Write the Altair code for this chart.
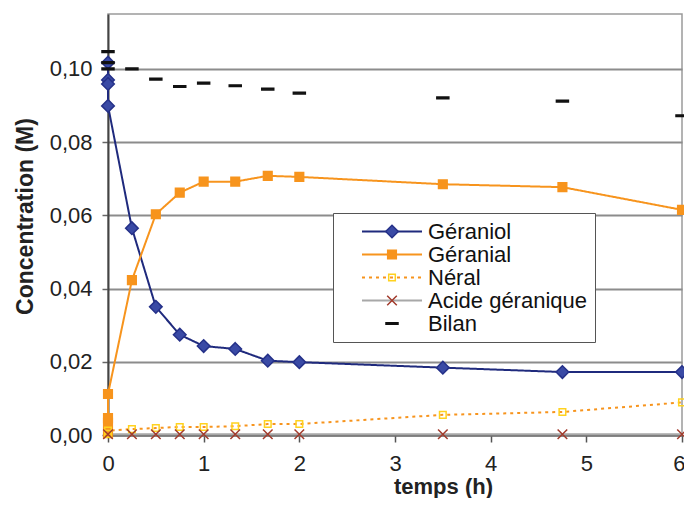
import altair as alt
import pandas as pd

SERIES = ["Géraniol", "Géranial", "Néral", "Acide géranique", "Bilan"]

T_GERANIOL = [0, 0, 0, 0, 0.25, 0.5, 0.75, 1, 1.33, 1.67, 2, 3.5, 4.75, 6]
V_GERANIOL = [0.1017, 0.0970, 0.0959, 0.0899, 0.0565, 0.0350, 0.0274, 0.0243,
              0.0235, 0.0203, 0.0199, 0.0184, 0.0172, 0.0172]

T_GERANIAL = [0, 0, 0, 0, 0.25, 0.5, 0.75, 1, 1.33, 1.67, 2, 3.5, 4.75, 6]
V_GERANIAL = [0.0005, 0.0033, 0.0046, 0.0112, 0.0423, 0.0603, 0.0662, 0.0692,
              0.0692, 0.0708, 0.0705, 0.0685, 0.0677, 0.0615]

T_NERAL = [0, 0, 0.25, 0.5, 0.75, 1, 1.33, 1.67, 2, 3.5, 4.75, 6]
V_NERAL = [0.0003, 0.0012, 0.0016, 0.0019, 0.0022, 0.0022, 0.0024, 0.0030,
           0.0030, 0.0055, 0.0063, 0.0089]

T_ACIDE = [0, 0.25, 0.5, 0.75, 1, 1.33, 1.67, 2, 3.5, 4.75, 6]
V_ACIDE = [0.0002, 0.0002, 0.0002, 0.0002, 0.0002, 0.0002, 0.0002, 0.0002,
           0.0002, 0.0002, 0.0002]

T_BILAN = [0, 0, 0, 0.25, 0.5, 0.75, 1, 1.33, 1.67, 2, 3.5, 4.75, 6]
V_BILAN = [0.1047, 0.1017, 0.1000, 0.1000, 0.0972, 0.0952, 0.0961, 0.0954,
           0.0945, 0.0934, 0.0921, 0.0912, 0.0872]

X_TICKS = [0, 1, 2, 3, 4, 5, 6]
Y_TICKS = [0.0, 0.02, 0.04, 0.06, 0.08, 0.10]

LINE_COLORS = ["#1f2a7d", "#f7941d", "#f7941d", "#a8a8a8", "transparent"]
LINE_DASH = [[1, 0], [1, 0], [3, 4], [1, 0], [1, 0]]

MARK_SHAPES = [
    "M0,-1.05L1.05,0L0,1.05L-1.05,0Z",
    "M-0.72,-0.72H0.72V0.72H-0.72Z",
    "M-0.55,-0.55H0.55V0.55H-0.55Z",
    "M-0.8,-0.8L0.8,0.8M-0.8,0.8L0.8,-0.8",
    "M-1,-0.14H1V0.14H-1Z",
]
MARK_FILL = ["#3a4aa5", "#f7941d", "transparent", "transparent", "#111111"]
MARK_STROKE = ["#253189", "#f7941d", "#ffd21f", "#a23b2c", "#111111"]

rows = []
for name, ts, vs in [
    ("Géraniol", T_GERANIOL, V_GERANIOL),
    ("Géranial", T_GERANIAL, V_GERANIAL),
    ("Néral", T_NERAL, V_NERAL),
    ("Acide géranique", T_ACIDE, V_ACIDE),
    ("Bilan", T_BILAN, V_BILAN),
]:
    for i, (t, v) in enumerate(zip(ts, vs)):
        rows.append({"serie": name, "t": t, "c": v, "idx": i})
df = pd.DataFrame(rows)

FONT = "Liberation Sans"

x_enc = alt.X(
    "t:Q",
    scale=alt.Scale(domain=[0, 6], nice=False, zero=False),
    axis=alt.Axis(
        values=X_TICKS, format="d", title="temps (h)", grid=False,
        domainColor="#707070", domainWidth=2.5,
        tickColor="#555555", tickSize=7, tickWidth=1.5,
        labelFont=FONT, labelFontSize=22, labelColor="#222222", labelPadding=11,
        labelAlign={"condition": {"test": "datum.value == 6", "value": "right"}, "value": "center"},
        labelOffset={"condition": {"test": "datum.value == 6", "value": 3}, "value": 0},
        titleFont=FONT, titleFontSize=22, titleFontWeight="bold", titleColor="#222222",
        titleX=335, titleY=58, titleBaseline="alphabetic", titleAlign="center",
    ),
)
y_enc = alt.Y(
    "c:Q",
    scale=alt.Scale(domain=[0, 0.115], nice=False, zero=True),
    axis=alt.Axis(
        values=Y_TICKS, labelExpr="replace(format(datum.value, '.2f'), '.', ',')",
        title="Concentration (M)", grid=True,
        gridColor="#8c8c8c", gridWidth=1.8,
        domainColor="#444444", domainWidth=2,
        tickColor="#666666", tickSize=6, tickWidth=1.5,
        labelFont=FONT, labelFontSize=22, labelColor="#222222", labelPadding=10,
        titleFont=FONT, titleFontSize=23, titleFontWeight="bold", titleColor="#222222",
        titleAngle=270, titleX=-83, titleY=202, titleAlign="center", titleBaseline="middle",
    ),
)

leg_lines = alt.Legend(
    title=None, orient="none", legendX=225, legendY=199,
    symbolType="stroke", symbolSize=3600, symbolStrokeWidth=2, symbolOffset=21,
    labelOffset=5, labelFont=FONT, labelFontSize=22, labelColor="#111111",
    labelLimit=300, clipHeight=23, rowPadding=0, padding=7,
    fillColor="white", strokeColor="#555555",
)
leg_marks = alt.Legend(
    title=None, orient="none", legendX=225, legendY=199,
    symbolSize=144, symbolStrokeWidth=1.5, symbolOffset=41,
    labelExpr="''", labelFont=FONT, labelFontSize=22, labelLimit=300,
    clipHeight=23, rowPadding=0, padding=7,
)

lines = alt.Chart(df).mark_line(strokeWidth=2).encode(
    x=x_enc,
    y=y_enc,
    color=alt.Color("serie:N", sort=SERIES,
                    scale=alt.Scale(domain=SERIES, range=LINE_COLORS), legend=leg_lines),
    strokeDash=alt.StrokeDash("serie:N", sort=SERIES,
                              scale=alt.Scale(domain=SERIES, range=LINE_DASH), legend=leg_lines),
    order="idx:Q",
)

MDOMAIN = [s + " " for s in SERIES]
points = alt.Chart(df).transform_calculate(serie_m="datum.serie + ' '").mark_point(
    filled=True, size=144, strokeWidth=1.5, opacity=1
).encode(
    x=x_enc,
    y=y_enc,
    shape=alt.Shape("serie_m:N", scale=alt.Scale(domain=MDOMAIN, range=MARK_SHAPES), legend=leg_marks),
    fill=alt.Fill("serie_m:N", scale=alt.Scale(domain=MDOMAIN, range=MARK_FILL), legend=leg_marks),
    stroke=alt.Stroke("serie_m:N", scale=alt.Scale(domain=MDOMAIN, range=MARK_STROKE), legend=leg_marks),
)

chart = alt.layer(lines, points).properties(
    width=574, height=421,
    autosize=alt.AutoSizeParams(type="none"),
    padding={"left": 100, "top": 6, "right": 2, "bottom": 63},
    background="white",
).configure_view(stroke="#9a9a9a", strokeWidth=1.5)

chart.save("out.html", embed_options={"renderer": "svg", "actions": False})
